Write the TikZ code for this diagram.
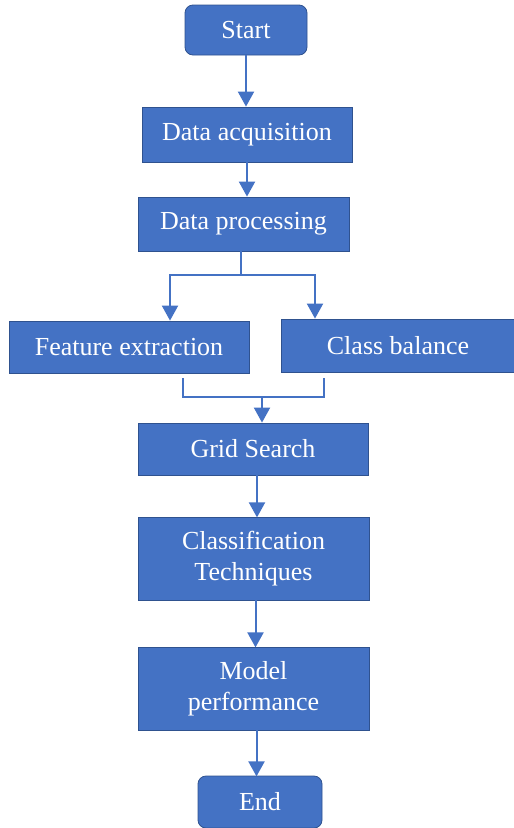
\documentclass[tikz,border=0pt]{standalone}
\usepackage{fontspec}
\setmainfont{Liberation Serif}
\usetikzlibrary{arrows.meta}

\definecolor{boxblue}{HTML}{4472C4}
\definecolor{boxedge}{HTML}{2F528F}

\tikzset{
  stepbox/.style={draw=boxedge, line width=0.8pt, fill=boxblue, text=white,
    inner sep=0pt, align=center, font=\fontsize{26}{31}\selectfont},
  termbox/.style={stepbox, rounded corners=8pt},
  link/.style={draw=boxblue, line width=2pt},
  arr/.style={link, -{Triangle[width=16pt,length=15pt]}}
}

\begin{document}
\begin{tikzpicture}[x=1pt, y=-1pt]
 \useasboundingbox (0,0) rectangle (514,828);

 % the boxes, placed on a pixel grid
 \node[termbox, minimum width=122pt, minimum height=50pt] (start) at (246,30) {Start};
 \node[stepbox, minimum width=210pt, minimum height=55pt] (acq) at (247,134.5) {Data acquisition};
 \node[stepbox, minimum width=211pt, minimum height=54pt] (proc) at (243.5,224) {Data processing};
 \node[stepbox, minimum width=240pt, minimum height=52pt] (feat) at (129,347) {Feature extraction};
 \node[stepbox, minimum width=234pt, minimum height=53pt] (bal) at (398,345.5) {Class balance};
 \node[stepbox, minimum width=230pt, minimum height=52pt] (grid) at (253,449) {Grid Search};
 \node[stepbox, minimum width=231pt, minimum height=83pt] (clf) at (253.5,558.5) {Classification\\Techniques};
 \node[stepbox, minimum width=231pt, minimum height=83pt] (perf) at (253.5,688.5) {Model\\performance};
 \node[termbox, minimum width=124pt, minimum height=52pt] (stop) at (260,802) {End};

 % straight links
 \draw[arr] (start.south) -- (start.south |- acq.north);
 \draw[arr] (acq.south) -- (acq.south |- proc.north);
 \draw[arr] (grid.south) ++(4,0) -- ++(0,42);
 \draw[arr] (clf.south) ++(2,0) -- ++(0,47);
 \draw[arr] (perf.south) ++(3,0) -- ++(0,46);

 % split after the processing step
 \coordinate (splitL) at (170,275);
 \coordinate (splitR) at (315,275);
 \draw[link] ([xshift=-2.5pt]proc.south) -- ([xshift=-2.5pt]proc.south |- splitL);
 \draw[link, line cap=rect] (splitL) -- (splitR);
 \draw[arr] (splitL) -- (splitL |- feat.north);
 \draw[arr] (splitR) -- (splitR |- bal.north);

 % join into the grid search
 \coordinate (joinL) at (183,378);
 \coordinate (joinR) at (324,378);
 \coordinate (merge) at (262,397);
 \draw[link] (joinL) |- (merge) -| (joinR);
 \draw[arr] (merge) -- (merge |- grid.north);
\end{tikzpicture}
\end{document}
